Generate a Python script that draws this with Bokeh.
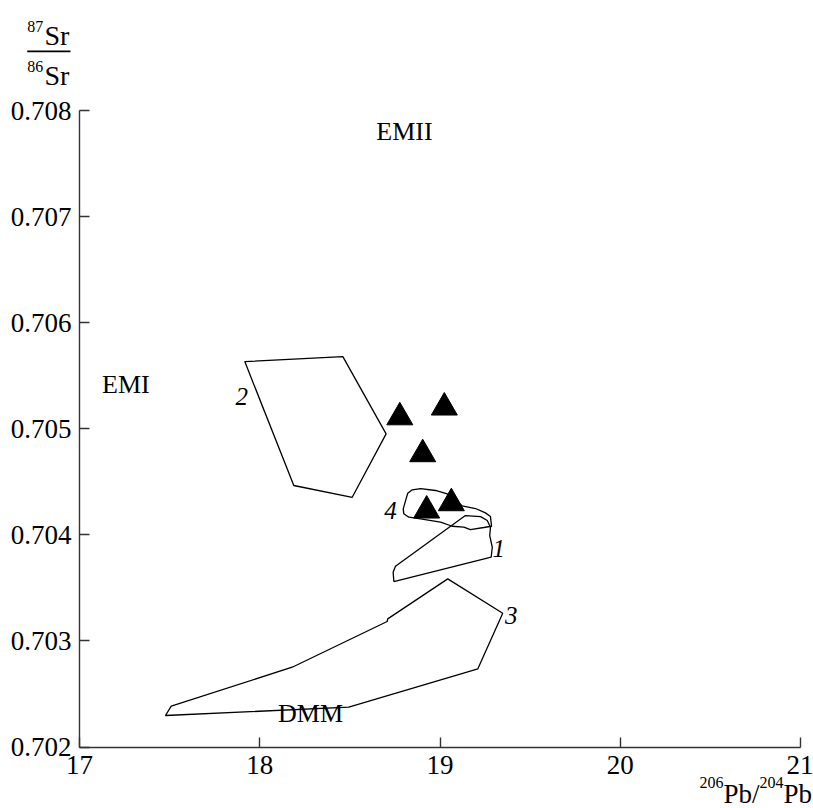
from bokeh.plotting import figure
from bokeh.models import FixedTicker, Label, BoxAnnotation, Range1d
from bokeh.embed import file_html
from bokeh.resources import INLINE
from bokeh.core.properties import value

FONT = "Liberation Serif"

# ---------------- data ----------------
x_ticks = [17, 18, 19, 20, 21]
y_ticks = [0.702, 0.703, 0.704, 0.705, 0.706, 0.707, 0.708]
y_tick_labels = ["0.702", "0.703", "0.704", "0.705", "0.706", "0.707", "0.708"]

# field 1
field1_x = [18.744, 18.740, 18.753, 19.141, 19.225, 19.262, 19.280, 19.276, 19.290, 19.284]
field1_y = [0.703560, 0.703647, 0.703704, 0.704182, 0.704172, 0.704135, 0.704072, 0.703993, 0.703883, 0.703789]

# field 2
field2_x = [17.917, 18.461, 18.701, 18.513, 18.189]
field2_y = [0.705633, 0.705680, 0.704952, 0.704354, 0.704465]

# field 3
field3_x = [19.043, 19.348, 19.210, 18.494, 17.477, 17.509, 18.180, 18.707, 18.710]
field3_y = [0.703585, 0.703261, 0.702737, 0.702375, 0.702297, 0.702385, 0.702752, 0.703183, 0.703208]

# field 4
field4_x = [18.821, 18.846, 18.892, 18.975, 19.040, 19.123, 19.197, 19.252, 19.280, 19.286,
            19.243, 19.169, 19.132, 19.068, 19.003, 18.892, 18.827, 18.799, 18.796, 18.809]
field4_y = [0.704392, 0.704424, 0.704436, 0.704418, 0.704386, 0.704273, 0.704248, 0.704207, 0.704172, 0.704081,
            0.704069, 0.704050, 0.704072, 0.704081, 0.704119, 0.704151, 0.704166, 0.704198, 0.704245, 0.704323]

# samples (triangles)
samples_x = [18.777, 19.024, 18.904, 18.926, 19.063]
samples_y = [0.705108, 0.705200, 0.704760, 0.704229, 0.704298]

# field number labels
field_label_text = ["1", "2", "3", "4"]
field_label_x = [19.326, 17.900, 19.395, 18.725]
field_label_y = [0.703868, 0.705303, 0.703239, 0.704229]

# end-member labels
em_text = ["EMII", "EMI", "DMM"]
em_x = [18.803, 17.257, 18.282]
em_y = [0.707801, 0.705417, 0.702313]

X_MIN, X_MAX = 17, 21
Y_MIN, Y_MAX = 0.702, 0.708

# ---------------- layout (page pixels) ----------------
W, H = 813, 808
AX_LEFT, AX_RIGHT = 79.0, 800.0     # pixel columns of x = 17 and x = 21
AX_TOP, AX_BOTTOM = 110.0, 746.5    # pixel rows of y = 0.708 and y = 0.702
SX = (AX_RIGHT - AX_LEFT) / (X_MAX - X_MIN)
SY = (AX_BOTTOM - AX_TOP) / (Y_MAX - Y_MIN)


def X(px):
    return X_MIN + (px - AX_LEFT) / SX


def Y(py):
    return Y_MIN + (AX_BOTTOM - py) / SY


p = figure(width=W, height=H, output_backend="svg", toolbar_location=None,
           x_range=Range1d(X(0), X(W)), y_range=Range1d(Y(H), Y(0)),
           min_border=0)
p.min_border_left = 0
p.min_border_right = 0
p.min_border_top = 0
p.min_border_bottom = 0
p.xgrid.visible = False
p.ygrid.visible = False
p.outline_line_color = None
p.background_fill_color = "white"
p.border_fill_color = "white"

p.xaxis.fixed_location = Y_MIN
p.yaxis.fixed_location = X_MIN
p.xaxis.bounds = (X_MIN, X_MAX)
p.yaxis.bounds = (Y_MIN, Y_MAX)

for ax in (p.xaxis, p.yaxis):
    ax.axis_line_color = "#333333"
    ax.axis_line_width = 1.4
    ax.major_tick_line_color = "#333333"
    ax.major_tick_line_width = 1.4
    ax.major_tick_in = 10
    ax.major_tick_out = 0
    ax.minor_tick_line_color = None
    ax.major_label_text_font = FONT
    ax.major_label_text_font_size = "27px"
    ax.major_label_text_color = "black"

p.xaxis.ticker = FixedTicker(ticks=x_ticks)
p.yaxis.ticker = FixedTicker(ticks=y_ticks)
p.yaxis.major_label_overrides = {t: s for t, s in zip(y_ticks, y_tick_labels)}
p.xaxis.major_label_standoff = 9
p.yaxis.major_label_standoff = 8

# fields
for fx, fy in [(field1_x, field1_y), (field2_x, field2_y), (field3_x, field3_y), (field4_x, field4_y)]:
    p.patch(fx, fy, fill_color=None, line_color="black", line_width=1.3)

# samples
p.scatter(samples_x, samples_y, marker="triangle", size=26, fill_color="black", line_color="black")

# labels
p.text(field_label_x, field_label_y, text=field_label_text, text_font=value(FONT),
       text_font_style="italic", text_font_size="25px", text_align="center",
       text_baseline="middle", text_color="black")
p.text(em_x, em_y, text=em_text, text_font=value(FONT), text_font_size="26px",
       text_align="center", text_baseline="middle", text_color="black")


# ---------------- axis titles (position = left edge, vertical centre of glyphs) ----------------
def lab(text, px, py, size):
    p.add_layout(Label(x=X(px), y=Y(py), text=text, text_font=FONT, text_font_size=size,
                       text_align="left", text_baseline="middle", text_color="black"))


# y title: 87Sr over 86Sr
lab("87", 26.7, 26.4, "16px")
lab("Sr", 44, 34.8, "28px")
p.add_layout(BoxAnnotation(left=X(26.7), right=X(70), top=Y(50), bottom=Y(51.7),
                           fill_color="black", fill_alpha=1, line_color=None))
lab("86", 26.7, 66.4, "16px")
lab("Sr", 44, 75.1, "28px")

# x title: 206Pb/204Pb
lab("206", 699, 781.7, "16px")
lab("Pb", 723, 793.1, "27px")
lab("/", 751.5, 793.1, "27px")
lab("204", 759, 781.7, "16px")
lab("Pb", 783, 793.1, "27px")

open("out.html", "w").write(file_html(p, INLINE))
